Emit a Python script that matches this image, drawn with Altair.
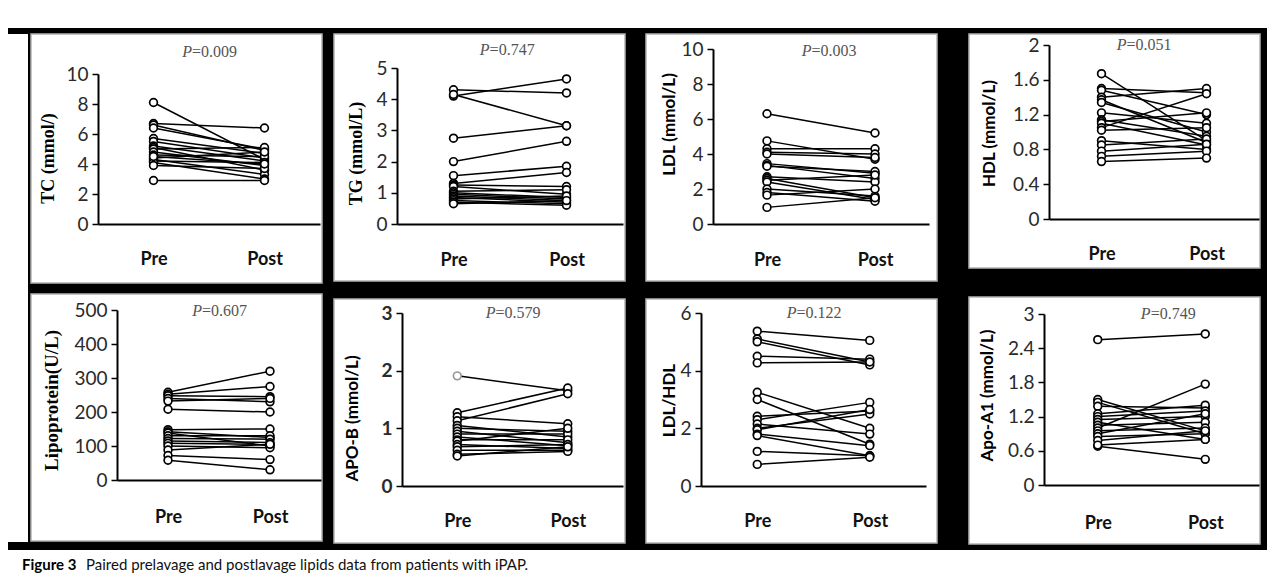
import altair as alt
import pandas as pd

# ---------------- data ----------------
PHASES = ["Pre", "Post"]

TC_PRE = [8.1, 6.7, 6.6, 6.4, 5.7, 5.5, 5.2, 5.1, 5.0, 4.8, 4.6, 4.4, 4.3, 4.2, 4.1, 3.9, 2.9, 4.5]
TC_POST = [4.3, 6.4, 4.9, 5.0, 4.7, 4.4, 4.2, 3.6, 5.1, 3.9, 4.5, 4.8, 3.3, 4.1, 3.0, 3.7, 2.9, 4.0]
TC_TICKS = [0, 2, 4, 6, 8, 10]

TG_PRE = [4.3, 4.1, 4.15, 2.75, 2.0, 1.55, 1.3, 1.25, 1.2, 1.05, 1.0, 0.95, 0.9, 0.85, 0.8, 0.75, 0.7, 0.65]
TG_POST = [4.2, 4.65, 3.15, 3.15, 2.65, 1.85, 1.65, 1.2, 0.95, 1.1, 0.85, 0.8, 0.75, 0.7, 0.9, 0.65, 0.6, 0.75]
TG_TICKS = [0, 1, 2, 3, 4, 5]

LDL_PRE = [6.3, 4.75, 4.3, 4.1, 4.0, 3.45, 3.35, 3.3, 2.7, 2.6, 2.5, 2.4, 2.0, 1.8, 1.65, 0.95]
LDL_POST = [5.2, 3.7, 4.3, 4.0, 3.8, 2.9, 2.6, 3.0, 2.4, 1.5, 2.8, 1.4, 1.6, 1.3, 2.0, 1.5]
LDL_TICKS = [0, 2, 4, 6, 8, 10]

HDL_PRE = [1.67, 1.5, 1.48, 1.4, 1.37, 1.34, 1.22, 1.14, 1.12, 1.1, 1.05, 1.02, 0.9, 0.85, 0.78, 0.72, 0.66]
HDL_POST = [0.9, 1.45, 1.2, 1.5, 0.88, 1.0, 1.1, 0.95, 1.22, 0.85, 1.44, 1.05, 0.8, 0.92, 0.86, 0.78, 0.7]
HDL_TICKS = [0, 0.4, 0.8, 1.2, 1.6, 2]

LP_PRE = [258, 252, 248, 240, 232, 208, 148, 142, 138, 130, 122, 115, 108, 100, 88, 72, 58]
LP_POST = [320, 275, 245, 230, 240, 200, 150, 125, 100, 130, 120, 110, 105, 95, 105, 60, 30]
LP_TICKS = [0, 100, 200, 300, 400, 500]

APOB_PRE = [1.91, 1.27, 1.2, 1.13, 1.05, 1.0, 0.95, 0.9, 0.85, 0.8, 0.78, 0.72, 0.68, 0.62, 0.55, 0.52]
APOB_POST = [1.65, 1.7, 1.08, 1.6, 0.85, 0.95, 0.75, 0.9, 0.7, 0.8, 1.0, 0.65, 0.72, 0.62, 0.6, 0.68]
APOB_TICKS = [0, 1, 2, 3]

RATIO_PRE = [5.37, 5.1, 5.0, 4.5, 4.27, 3.25, 3.0, 2.42, 2.3, 2.15, 2.0, 1.95, 1.8, 1.75, 1.2, 0.75]
RATIO_POST = [5.05, 4.3, 4.2, 4.4, 4.3, 2.0, 1.45, 2.6, 2.9, 1.8, 2.5, 2.65, 1.4, 1.05, 1.05, 1.0]
RATIO_TICKS = [0, 2, 4, 6]

APOA_PRE = [2.55, 1.5, 1.45, 1.38, 1.25, 1.2, 1.15, 1.1, 1.05, 1.0, 0.95, 0.9, 0.85, 0.78, 0.68, 0.7]
APOA_POST = [2.65, 0.95, 0.9, 1.35, 1.4, 1.3, 1.2, 0.8, 1.1, 1.77, 1.0, 1.25, 0.9, 0.95, 0.45, 0.8]
APOA_TICKS = [0, 0.6, 1.2, 1.8, 2.4, 3]

TITLES = ["TC (mmol/)", "TG (mmol/L)", "LDL (mmol/L)", "HDL (mmol/L)",
          "Lipoprotein(U/L)", "APO-B (mmol/L)", "LDL/HDL", "Apo-A1 (mmol/L)"]
P_VALUES = ["=0.009", "=0.747", "=0.003", "=0.051", "=0.607", "=0.579", "=0.122", "=0.749"]
HIGHLIGHT = {5: [0]}  # APO-B first patient drawn with a grey pre-lavage marker

CAPTION_BOLD = "Figure 3"
CAPTION_TEXT = "Paired prelavage and postlavage lipids data from patients with iPAP."

SERIES = [(TC_PRE, TC_POST, TC_TICKS), (TG_PRE, TG_POST, TG_TICKS),
          (LDL_PRE, LDL_POST, LDL_TICKS), (HDL_PRE, HDL_POST, HDL_TICKS),
          (LP_PRE, LP_POST, LP_TICKS), (APOB_PRE, APOB_POST, APOB_TICKS),
          (RATIO_PRE, RATIO_POST, RATIO_TICKS), (APOA_PRE, APOA_POST, APOA_TICKS)]

# ---------------- layout / style (pixels inside each panel) ----------------
W = 291
GAPS = [10, 19, 30]
GEOM = [
    dict(h=249, ax=67, xe=289, y0=190, yt=40, tx=17, ty=124, px=1.0, py=11.5, lp=26, tf="Liberation Serif", ts=18),
    dict(h=247, ax=63, xe=289, y0=190, yt=34, tx=22, ty=119, px=0.97, py=5.58, lp=27, tf="Liberation Serif", ts=18),
    dict(h=247, ax=67, xe=283, y0=190, yt=15, tx=23, ty=90, px=1.07, py=9.9, lp=27, tf="Lato", ts=17),
    dict(h=234, ax=80, xe=290, y0=185, yt=11, tx=20, ty=99, px=0.9, py=2.0, lp=26, tf="Lato", ts=17),
    dict(h=247, ax=86, xe=290, y0=186, yt=16, tx=20, ty=106, px=1.0, py=497, lp=28, tf="Liberation Serif", ts=19),
    dict(h=244, ax=68, xe=289, y0=187, yt=14, tx=18, ty=119, px=1.0, py=3.0, lp=26, tf="Lato", ts=17),
    dict(h=244, ax=55, xe=280, y0=187, yt=14, tx=23, ty=101, px=1.0, py=6.0, lp=26, tf="Lato", ts=17),
    dict(h=247, ax=75, xe=290, y0=188, yt=17, tx=18, ty=98, px=1.15, py=3.0, lp=29, tf="Lato", ts=17),
]
BOLD_TICKS = {5}


def panel(i):
    pre, post, ticks = SERIES[i]
    g = GEOM[i]
    rows = []
    grey = HIGHLIGHT.get(i, [])
    for k, (a, b) in enumerate(zip(pre, post)):
        rows.append({"id": k, "phase": 0.5, "value": a, "stk": "#9a9a9a" if k in grey else "black"})
        rows.append({"id": k, "phase": 1.5, "value": b, "stk": "black"})
    df = pd.DataFrame(rows)

    xs = alt.Scale(domain=[0, 2], range=[g["ax"], g["xe"]], nice=False, zero=False)
    ys = alt.Scale(domain=[0, ticks[-1]], range=[g["y0"], g["yt"]], nice=False, zero=False)

    xaxis = alt.Axis(values=[0.5, 1.5], labelExpr="datum.value < 1 ? 'Pre' : 'Post'",
                     title=None, orient="bottom", offset=-(g["h"] - g["y0"]),
                     ticks=False, tickSize=0, labelPadding=g["lp"], labelFont="Lato",
                     labelFontSize=18, labelFontWeight="bold", labelColor="#111",
                     domainColor="black", domainWidth=2, grid=False)
    yaxis = alt.Axis(values=ticks, format="~r", title=TITLES[i], orient="left", offset=-g["ax"],
                     titleX=g["tx"] - g["ax"], titleY=g["ty"], titleAngle=270,
                     titleAlign="center", titleBaseline="middle", titleFont=g["tf"],
                     titleFontSize=g["ts"], titleFontWeight="bold", titleColor="black",
                     labelFont="Lato", labelFontSize=19, labelColor="#2a2a2a",
                     labelFontWeight="bold" if i in BOLD_TICKS else "normal",
                     tickSize=6, tickColor="black", tickWidth=1.5, labelPadding=4,
                     domainColor="black", domainWidth=2, grid=False)

    lines = alt.Chart(df).mark_line(color="black", strokeWidth=1.5).encode(
        x=alt.X("phase:Q", scale=xs, axis=xaxis),
        y=alt.Y("value:Q", scale=ys, axis=yaxis),
        detail="id:N",
    )
    pts = alt.Chart(df).mark_point(shape="circle", filled=True, fill="white", size=60,
                                   strokeWidth=1.7, opacity=1).encode(
        x="phase:Q", y="value:Q", stroke=alt.Stroke("stk:N", scale=None)
    )
    pdf = pd.DataFrame({"phase": [g["px"]], "value": [g["py"]], "p": ["P"], "rest": [P_VALUES[i]]})
    t1 = alt.Chart(pdf).mark_text(font="Liberation Serif", fontSize=16, fontStyle="italic",
                                  align="right", baseline="middle", dx=-17, color="#555").encode(
        x="phase:Q", y="value:Q", text="p:N")
    t2 = alt.Chart(pdf).mark_text(font="Liberation Serif", fontSize=16,
                                  align="left", baseline="middle", dx=-17, color="#555").encode(
        x="phase:Q", y="value:Q", text="rest:N")
    return alt.layer(lines, pts, t1, t2).properties(
        width=W, height=g["h"],
        view=alt.ViewBackground(fill="white", stroke="#b3b3b3", strokeWidth=1.5),
    )


def spacer(w, h):
    # plain white block (background strip); the rect is invisible, only fixes the bounds
    return alt.Chart(pd.DataFrame({"v": [0]})).mark_rect(opacity=0).encode(
        x=alt.value(0), x2=alt.value(w), y=alt.value(0), y2=alt.value(h)
    ).properties(width=w, height=h, view=alt.ViewBackground(fill="white", stroke=None))


P = [panel(i) for i in range(8)]
col1 = alt.vconcat(P[0], P[4], spacing=9)
col2 = alt.vconcat(P[1], P[5], spacing=16)
col3 = alt.vconcat(P[2], P[6], spacing=16)
col4 = alt.vconcat(P[3], P[7], spacing=27)
grid = alt.hconcat(alt.hconcat(alt.hconcat(col1, col2, spacing=GAPS[0]), col3, spacing=GAPS[1]),
                   col4, spacing=GAPS[2])

TOTAL_W = 22 + 4 * W + sum(GAPS) + 14
middle = alt.hconcat(spacer(20, 508), grid, spacing=2)

cap_df = pd.DataFrame({"a": [CAPTION_BOLD], "b": [CAPTION_TEXT]})
cap1 = alt.Chart(cap_df).mark_text(font="Lato", fontSize=15, fontWeight="bold", align="left",
                                   baseline="middle", color="black").encode(
    x=alt.value(14), y=alt.value(15), text="a:N")
cap2 = alt.Chart(cap_df).mark_text(font="Lato", fontSize=15, align="left",
                                   baseline="middle", color="#111").encode(
    x=alt.value(78), y=alt.value(15), text="b:N")
caption = alt.layer(cap1, cap2).properties(
    width=TOTAL_W, height=30, view=alt.ViewBackground(fill="white", stroke=None))

chart = alt.vconcat(spacer(TOTAL_W, 20), middle, caption, spacing=5).properties(
    background="black", padding=0
).configure_view(stroke=None)

chart.save("out.html", embed_options={"renderer": "svg", "actions": False})
